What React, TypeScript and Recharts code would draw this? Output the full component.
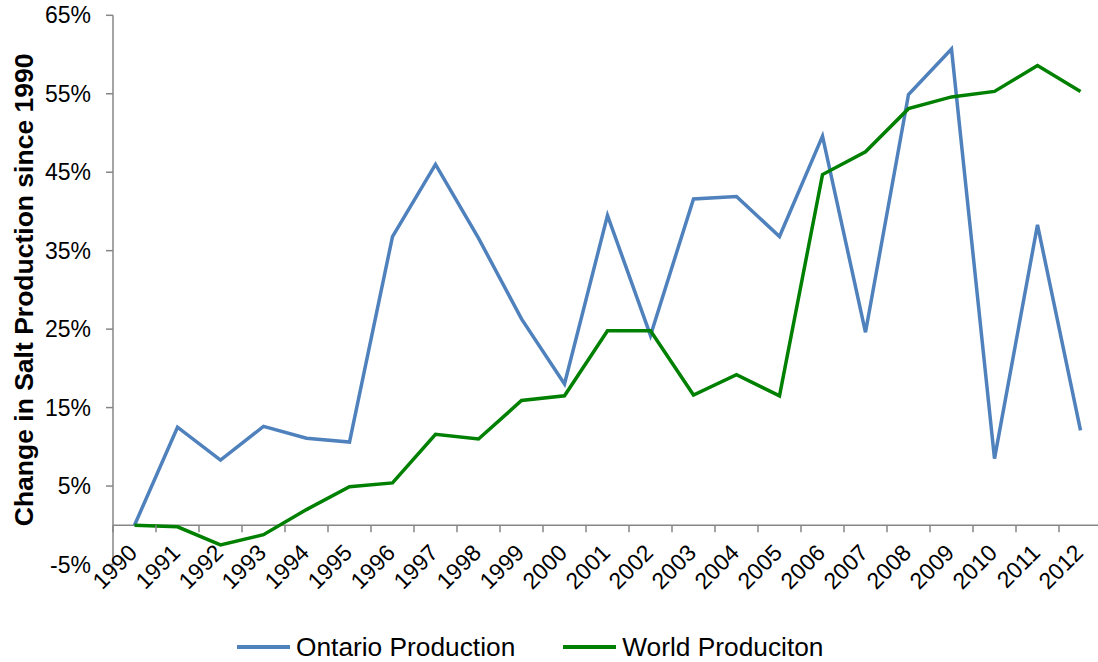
import React from "react";
import { LineChart, Line, XAxis, YAxis, ReferenceLine, Legend, Label } from "recharts";

const years = [
  "1990", "1991", "1992", "1993", "1994", "1995", "1996", "1997", "1998", "1999", "2000", "2001",
  "2002", "2003", "2004", "2005", "2006", "2007", "2008", "2009", "2010", "2011", "2012",
];
const ontario = [
  0, 12.5, 8.3, 12.6, 11.1, 10.6, 36.8, 46.0, 36.6, 26.3, 18.0, 39.5,
  24.2, 41.6, 41.9, 36.8, 49.6, 24.6, 54.9, 60.7, 8.5, 38.3, 12.1,
];
const world = [
  0, -0.2, -2.5, -1.2, 2.0, 4.9, 5.4, 11.6, 11.0, 15.9, 16.5, 24.8,
  24.8, 16.6, 19.2, 16.5, 44.7, 47.6, 53.1, 54.6, 55.3, 58.6, 55.3,
];
const yTicks = [-5, 5, 15, 25, 35, 45, 55, 65];

const series = [
  { key: "ontario", name: "Ontario Production", color: "#4F81BD" },
  { key: "world", name: "World Produciton", color: "#008000" },
];

const data = years.map((year, i) => ({ year, ontario: ontario[i], world: world[i] }));

const FONT = '"Liberation Sans", Arial, sans-serif';
const AXIS = "#868686";

// layout of the plot area, used to put the category axis on the 0% line
const W = 1110;
const H = 662;
const TOP = 15.3;
const X_AXIS_H = 97.5;
const PLOT_H = H - TOP - X_AXIS_H;
const Y_MIN = -5;
const Y_MAX = 65;
const ZERO_Y = TOP + (PLOT_H * (Y_MAX - 0)) / (Y_MAX - Y_MIN);

const XTick = (props: any) => {
  const { x, payload } = props;
  const half = payload.offset ?? 0;
  const tx = x + 4;
  const ty = ZERO_Y + 29;
  return (
    <g>
      <line x1={x - half} x2={x - half} y1={ZERO_Y} y2={ZERO_Y + 7} stroke={AXIS} strokeWidth={1.5} />
      <text
        x={tx}
        y={ty}
        transform={`rotate(-45, ${tx}, ${ty})`}
        textAnchor="end"
        fontSize={23}
        fill="#000"
      >
        {payload.value}
      </text>
    </g>
  );
};

const renderLegend = () => (
  <div style={{ display: "flex", alignItems: "center", fontSize: 26.3, lineHeight: "30px", color: "#000" }}>
    {series.map((s, i) => (
      <div key={s.key} style={{ display: "flex", alignItems: "center", marginRight: i === 0 ? 48 : 0 }}>
        <span style={{ display: "inline-block", width: 53, height: 3.5, background: s.color, marginRight: 6 }} />
        <span>{s.name}</span>
      </div>
    ))}
  </div>
);

export default function App() {
  return (
    <div style={{ width: 1098, height: 662, overflow: "hidden", fontFamily: FONT, background: "#fff" }}>
      <style>{"body{margin:0}"}</style>
      <LineChart width={W} height={H} data={data} margin={{ top: TOP, right: 8, left: 0, bottom: 0 }}>
        <YAxis
          width={113}
          domain={[Y_MIN, Y_MAX]}
          ticks={yTicks}
          type="number"
          allowDataOverflow
          tickFormatter={(v) => `${v}%`}
          tick={{ fontSize: 23, fill: "#000" }}
          tickSize={7}
          tickMargin={15}
          axisLine={{ stroke: AXIS, strokeWidth: 1.5 }}
          tickLine={{ stroke: AXIS, strokeWidth: 1.5 }}
        >
          <Label
            content={(p: any) => {
              const vb = p.viewBox || {};
              const cy = (vb.y ?? TOP) + (vb.height ?? PLOT_H) / 2;
              return (
                <text
                  x={33}
                  y={cy}
                  transform={`rotate(-90, 33, ${cy})`}
                  textAnchor="middle"
                  fontSize={26.5}
                  fontWeight="bold"
                  fill="#000"
                >
                  Change in Salt Production since 1990
                </text>
              );
            }}
          />
        </YAxis>
        <XAxis
          dataKey="year"
          scale="band"
          height={X_AXIS_H}
          interval={0}
          axisLine={false}
          tickLine={false}
          tick={<XTick />}
        />
        <ReferenceLine y={0} stroke={AXIS} strokeWidth={1.5} />
        {series.map((s) => (
          <Line
            key={s.key}
            type="linear"
            dataKey={s.key}
            name={s.name}
            stroke={s.color}
            strokeWidth={3.5}
            dot={false}
            activeDot={false}
            isAnimationActive={false}
          />
        ))}
        <Legend
          layout="horizontal"
          verticalAlign="middle"
          align="center"
          content={renderLegend}
          wrapperStyle={{ top: 632, left: 237, width: 640, height: 30 }}
        />
      </LineChart>
    </div>
  );
}
